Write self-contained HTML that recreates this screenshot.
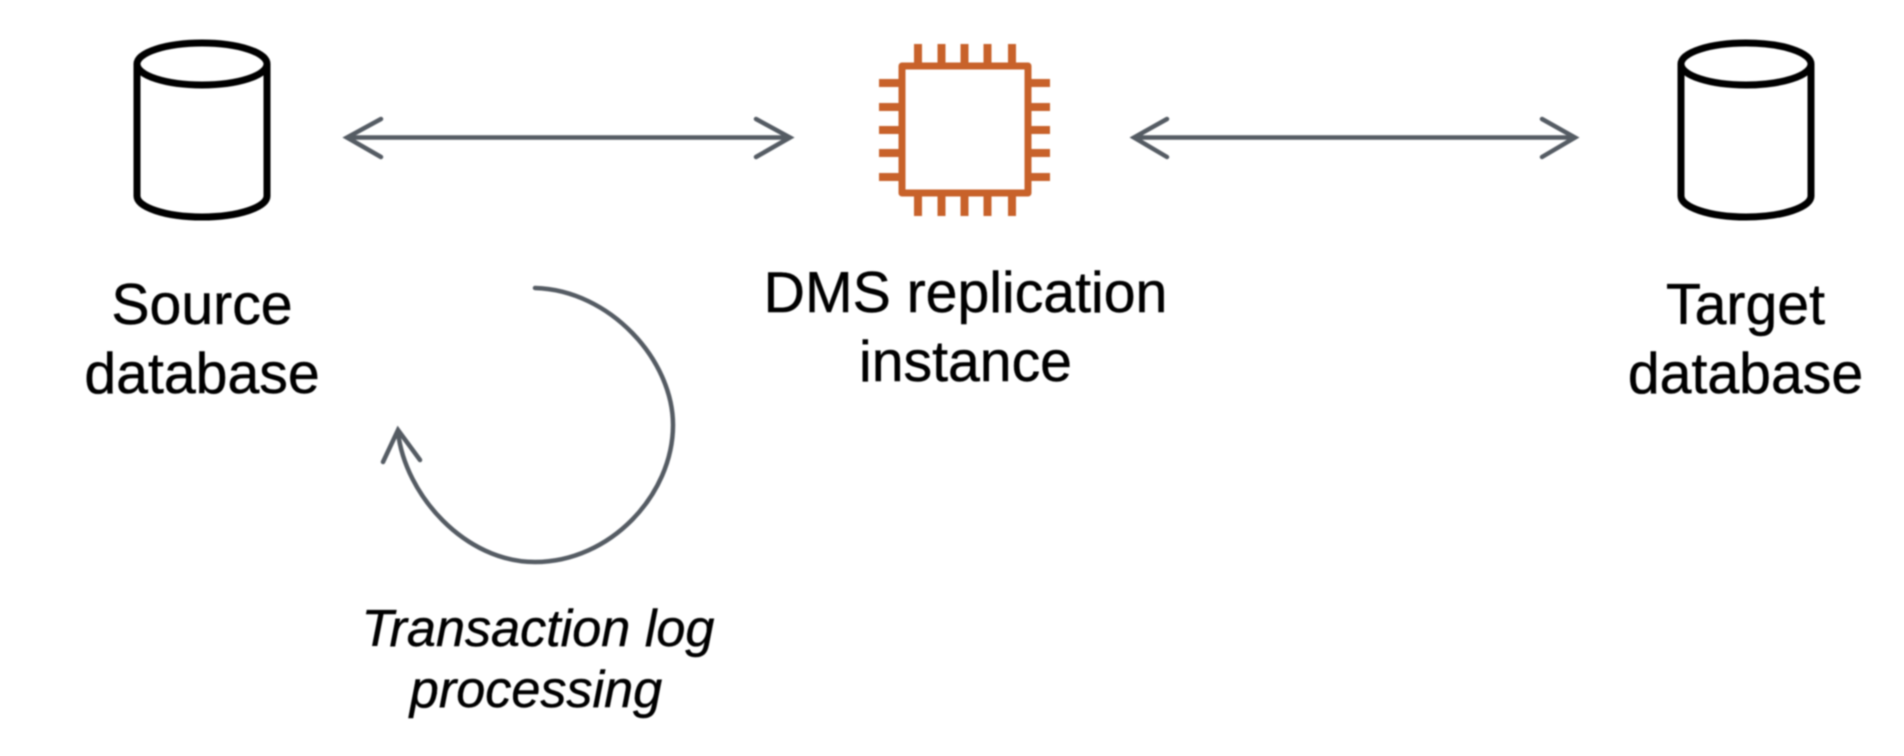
<!DOCTYPE html>
<html lang="en">
<head>
<meta charset="utf-8">
<title>DMS replication diagram</title>
<style>
html,body{margin:0;padding:0;background:#fff;width:1904px;height:756px;overflow:hidden}
svg{display:block}
text{font-family:"Liberation Sans",Arial,sans-serif;fill:#000;stroke:#000;stroke-width:.45px;text-anchor:middle;font-size:57.2px}
.i{font-style:italic;font-size:52.2px}
</style>
</head>
<body>
<svg width="1904" height="756" viewBox="0 0 1904 756" xmlns="http://www.w3.org/2000/svg">
<rect width="1904" height="756" fill="#fff"/>
<defs>
<filter id="b" x="-5%" y="-5%" width="110%" height="110%"><feGaussianBlur stdDeviation="0.7"/></filter>
</defs>
<g filter="url(#b)">
<!-- Source cylinder -->
<g fill="none" stroke="#000" stroke-width="7" stroke-linejoin="round">
<ellipse cx="202" cy="64" rx="65" ry="21"/>
<path d="M137 64V196C137 207 165 217 202 217C239 217 267 207 267 196V64"/>
</g>
<!-- Target cylinder -->
<g fill="none" stroke="#000" stroke-width="7" stroke-linejoin="round">
<ellipse cx="1746" cy="64" rx="65" ry="21"/>
<path d="M1681 64V196C1681 207 1709 217 1746 217C1783 217 1811 207 1811 196V64"/>
</g>
<!-- Chip -->
<g fill="none" stroke="#C8622A" stroke-width="7">
<rect x="902" y="66" width="126" height="127" stroke-linejoin="round"/>
<g stroke-width="8">
<path d="M918 44V64M941.5 44V64M964.5 44V64M987.5 44V64M1012 44V64"/>
<path d="M918 195V216M941.5 195V216M964.5 195V216M987.5 195V216M1012 195V216"/>
<path d="M879 83H900M879 107H900M879 130H900M879 153H900M879 177H900"/>
<path d="M1030 83H1050M1030 107H1050M1030 130H1050M1030 153H1050M1030 177H1050"/>
</g>
</g>
<!-- Double arrows -->
<g fill="none" stroke="#545B64" stroke-width="4.5" stroke-linecap="round" stroke-linejoin="miter">
<path d="M348 137.5H789"/>
<path d="M381 119L347 137.5L381 157"/>
<path d="M756 119L790 137.5L756 157"/>
<path d="M1135 137.5H1574"/>
<path d="M1167 119L1134 137.5L1167 157"/>
<path d="M1542 119L1575 137.5L1542 157"/>
<!-- Loop -->
<path d="M535 288C610 290 673 360 673 425C673 495 610 562 535 562C465 562 405 495 398 432"/>
<path d="M383 462L398 430L420 460"/>
</g>
<!-- Labels -->
<text x="202" y="324">Source</text>
<text x="202" y="393">database</text>
<text x="965.5" y="312">DMS replication</text>
<text x="965.5" y="381">instance</text>
<text x="1745.5" y="324">Target</text>
<text x="1745.5" y="393">database</text>
<text class="i" x="538" y="646">Transaction log</text>
<text class="i" x="536" y="707">processing</text>
</g>
</svg>
</body>
</html>
